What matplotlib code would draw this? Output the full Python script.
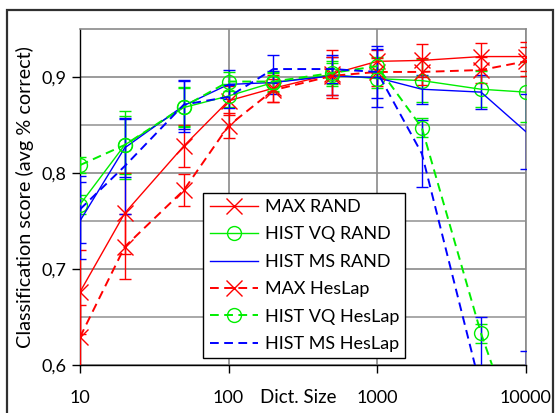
import matplotlib
matplotlib.use("Agg")
import matplotlib.pyplot as plt
from matplotlib.patches import Rectangle
from matplotlib.ticker import FixedLocator, FuncFormatter, NullLocator

plt.rcParams['font.family'] = ['Lato', 'DejaVu Sans']

dict_sizes = [10, 20, 50, 100, 200, 500, 1000, 2000, 5000, 10000]

max_rand = [0.676, 0.758, 0.828, 0.875, 0.888, 0.903, 0.916, 0.917, 0.921, 0.921]
max_rand_err = [0.044, 0.042, 0.022, 0.015, 0.014, 0.025, 0.012, 0.017, 0.014, 0.015]

vq_rand = [0.767, 0.829, 0.868, 0.880, 0.894, 0.902, 0.898, 0.896, 0.887, 0.884]
vq_rand_err = [0.010, 0.035, 0.020, 0.012, 0.010, 0.012, 0.010, 0.022, 0.019, 0.031]

ms_rand = [0.750, 0.826, 0.870, 0.892, 0.894, 0.901, 0.899, 0.887, 0.884, 0.843]
ms_rand_err = [0.040, 0.030, 0.027, 0.015, 0.012, 0.020, 0.030, 0.015, 0.018, 0.039]

max_hes = [0.629, 0.723, 0.782, 0.849, 0.886, 0.901, 0.905, 0.905, 0.907, 0.916]
max_hes_err = [0.033, 0.034, 0.017, 0.013, 0.012, 0.020, 0.015, 0.014, 0.014, 0.015]

vq_hes = [0.808, 0.829, 0.869, 0.895, 0.895, 0.904, 0.911, 0.847, 0.633, 0.500]
vq_hes_err = [0.008, 0.030, 0.020, 0.010, 0.010, 0.012, 0.010, 0.010, 0.010, 0.010]

ms_hes = [0.762, 0.807, 0.871, 0.879, 0.908, 0.908, 0.905, 0.820, 0.575, 0.450]
ms_hes_err = [0.035, 0.050, 0.025, 0.012, 0.015, 0.015, 0.027, 0.035, 0.075, 0.165]

series = [
    ("MAX RAND", max_rand, max_rand_err, "#FF0000", "-", "x"),
    ("HIST VQ RAND", vq_rand, vq_rand_err, "#00EE00", "-", "o"),
    ("HIST MS RAND", ms_rand, ms_rand_err, "#0000FF", "-", None),
    ("MAX HesLap", max_hes, max_hes_err, "#FF0000", "--", "x"),
    ("HIST VQ HesLap", vq_hes, vq_hes_err, "#00EE00", "--", "o"),
    ("HIST MS HesLap", ms_hes, ms_hes_err, "#0000FF", "--", None),
]

fig = plt.figure(figsize=(5.56, 4.13), dpi=100)
ax = fig.add_axes([80/556, (413-365)/413, 445.7/556, 336.3/413])

handles = []
for name, vals, errs, col, ls, mk in series:
    ax.errorbar(dict_sizes, vals, yerr=errs, fmt='none', ecolor=col,
                elinewidth=1.0, capsize=4, capthick=1.0, zorder=3)
    if ls == "-":
        line, = ax.plot(dict_sizes, vals, color=col, ls='-', lw=1.0,
                        marker=mk, markersize=11 if mk == "x" else 10,
                        markerfacecolor='none', markeredgecolor=col,
                        markeredgewidth=1.0, label=name, zorder=4)
    else:
        line, = ax.plot(dict_sizes, vals, color=col, ls=(0, (4.5, 2.8)), lw=1.4,
                        marker=mk, markersize=11 if mk == "x" else 10,
                        markerfacecolor='none', markeredgecolor=col,
                        markeredgewidth=1.0, label=name, zorder=4)
    handles.append(line)

ax.set_xscale('log')
ax.set_xlim(10, 10000)
ax.set_ylim(0.6, 0.95)

ax.xaxis.set_major_locator(FixedLocator([10, 100, 1000, 10000]))
ax.xaxis.set_minor_locator(NullLocator())
ax.xaxis.set_major_formatter(FuncFormatter(lambda v, p: f"{int(v)}"))
ax.yaxis.set_major_locator(FixedLocator([0.6, 0.7, 0.8, 0.9]))
ax.yaxis.set_minor_locator(FixedLocator([0.65, 0.75, 0.85]))
ax.yaxis.set_major_formatter(FuncFormatter(lambda v, p: f"{v:.1f}".replace('.', ',')))

ax.tick_params(axis='both', which='major', labelsize=13, length=6, width=1, color='black')
ax.tick_params(axis='x', pad=12)
ax.tick_params(axis='y', pad=4)
ax.tick_params(axis='y', which='minor', length=0)

ax.grid(True, which='major', axis='both', color='#8a8a8a', lw=1.2, zorder=0)
ax.grid(True, which='minor', axis='y', color='#9a9a9a', lw=1.2, zorder=0)
ax.set_axisbelow(True)

for s in ['top', 'right']:
    ax.spines[s].set_color('#8a8a8a')
    ax.spines[s].set_linewidth(1.2)
for s in ['left', 'bottom']:
    ax.spines[s].set_color('black')
    ax.spines[s].set_linewidth(1.0)

ax.set_ylabel("Classification score (avg % correct)", fontsize=14.3, va='center')
ax.yaxis.set_label_coords(-0.123, 0.5)
ax.set_xlabel("Dict. Size", fontsize=13.5)
ax.xaxis.set_label_coords(0.489, -0.097)
ax.xaxis.label.set_va('center')

leg = ax.legend(handles=handles, loc='lower left', bbox_to_anchor=(0.2767, 0.02),
                borderaxespad=0, fontsize=13, frameon=True, fancybox=False,
                framealpha=1, edgecolor='black', handlelength=2.7,
                labelspacing=0.63, borderpad=0.35, handletextpad=0.35)
leg.get_frame().set_linewidth(1.0)
leg.set_zorder(5)

fig.patches.append(Rectangle((7/556, -0.02), 546/556, 1.02 - 10/413,
                             transform=fig.transFigure, fill=False,
                             edgecolor='#303030', lw=1.6))

fig.savefig("out.png", dpi=100)
